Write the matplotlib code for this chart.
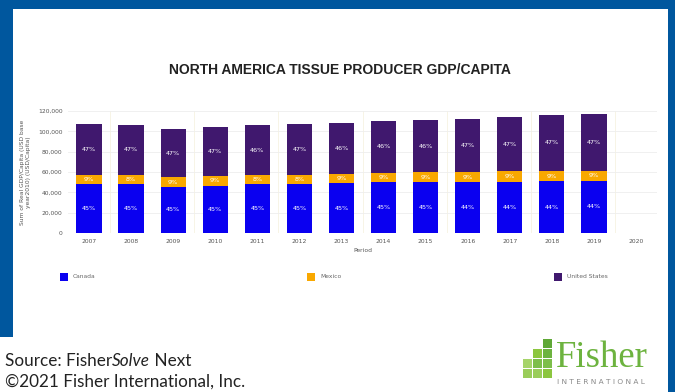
import matplotlib.pyplot as plt
import numpy as np
from matplotlib.patches import Rectangle

# Real GDP per capita by country (USD, base year 2010)
years = ["2007", "2008", "2009", "2010", "2011", "2012", "2013",
         "2014", "2015", "2016", "2017", "2018", "2019", "2020"]
canada = [48000, 48000, 45700, 46700, 48000, 48400, 48700,
          49700, 49700, 49700, 50600, 51000, 51300, np.nan]
mexico = [9200, 8900, 8900, 8900, 8900, 8800, 9500,
          9800, 10100, 10100, 10200, 10100, 10100, np.nan]
usa = [50000, 49700, 47700, 48700, 49000, 50000, 50300,
       50700, 51300, 52300, 53300, 54900, 55300, np.nan]
series_names = ["Canada", "Mexico", "United States"]
series_colors = ["#0A00F0", "#F9A800", "#40186E"]

BORDER = "#00579E"
W, H = 675, 392

fig = plt.figure(figsize=(W / 100, H / 100), dpi=100)
fig.patch.set_facecolor("white")


def px_rect(x0, y0, w, h, color, z=1):
    # rectangle given in pixels from the top-left corner
    fig.patches.append(Rectangle((x0 / W, 1 - (y0 + h) / H), w / W, h / H,
                                 transform=fig.transFigure, facecolor=color,
                                 linewidth=0, zorder=z))


# blue frame around the chart panel
for x0, y0, w, h in [(0, 0, W, 9), (0, 0, 13, 337), (668, 0, 7, H)]:
    px_rect(x0, y0, w, h, BORDER, 0)

ax = fig.add_axes([68 / W, 1 - 233 / H, (657 - 68) / W, 122 / H])
x = np.arange(len(years))
data = [np.array(canada), np.array(mexico), np.array(usa)]
totals = data[0] + data[1] + data[2]
bottom = np.zeros(len(years))
for vals, name, col in zip(data, series_names, series_colors):
    ax.bar(x, vals, 0.6, bottom=bottom, color=col, label=name, zorder=3)
    for xi, v, b, t in zip(x, vals, bottom, totals):
        if np.isnan(v):
            continue
        ax.text(xi, b + v / 2, f"{v / t * 100:.0f}%", ha="center", va="center",
                color="white", fontsize=4.6, zorder=4)
    bottom = bottom + np.nan_to_num(vals)

ax.set_xlim(-0.5, len(years) - 0.5)
ax.set_ylim(0, 120000)
ax.set_yticks(np.arange(0, 120001, 20000))
ax.set_yticklabels([f"{v:,}" for v in range(0, 120001, 20000)])
ax.set_xticks(x)
ax.set_xticklabels(years)
ax.tick_params(length=0, labelsize=4.3, labelcolor="#555555", pad=4)
ax.grid(axis="y", color="#EEEEEE", linewidth=0.6, zorder=0)
for bx in np.arange(0.5, len(years) - 1, 2):
    ax.axvline(bx, color="#F6F2E2", linewidth=0.6, zorder=0)
for s in ax.spines.values():
    s.set_visible(False)
ax.set_xlabel("Period", fontsize=4.3, color="#555555", labelpad=3)
ax.set_ylabel("Sum of Real GDP/Capita (USD base\nyear2010) (USD/Capita)",
              fontsize=4.3, color="#555555", labelpad=5, linespacing=1.1)

fig.text(340 / W, 1 - 70 / H, "NORTH AMERICA TISSUE PRODUCER GDP/CAPITA",
         ha="center", va="center", fontsize=10, fontweight="bold",
         family="Liberation Sans", color="#222222")

# legend spread across the panel
for sx, name, col in zip([60, 307, 554], series_names, series_colors):
    px_rect(sx, 273, 8, 8, col)
    fig.text((sx + 13) / W, 1 - 277 / H, name, ha="left", va="center",
             fontsize=4.3, color="#666666")

# footer: the product name has an italic part, so the pieces are laid end to end
renderer = fig.canvas.get_renderer()
cx = 5
for piece, st in [("Source: Fisher", "normal"), ("Solve", "italic"), (" Next", "normal")]:
    t = fig.text(cx / W, 1 - 366 / H, piece, ha="left", va="baseline",
                 fontsize=12.3, family="Lato", style=st, color="#222222")
    cx += t.get_window_extent(renderer).width
fig.text(5 / W, 1 - 387 / H, "\u00a92021 Fisher International, Inc.", ha="left",
         va="baseline", fontsize=12.3, family="Lato", color="#222222")

# Fisher logo: grid of green squares plus wordmark
blocks = [(543, 339, "#5FA836"), (543, 349, "#6DB33F"), (543, 359, "#7DBE4A"), (543, 369, "#8CC63F"),
          (533, 349, "#8CC63F"), (533, 359, "#7DBE4A"), (533, 369, "#9ACD5A"),
          (523, 359, "#A6D46A"), (523, 369, "#9ACD5A")]
for bx, by, bc in blocks:
    px_rect(bx, by, 9, 9, bc)
fig.text(556 / W, 1 - 367 / H, "Fisher", ha="left", va="baseline", fontsize=26.5,
         family="Liberation Serif", color="#6DB33F")
fig.text(601 / W, 1 - 382 / H, "I N T E R N A T I O N A L", ha="center", va="center",
         fontsize=5.3, color="#888888")

fig.savefig("out.png", dpi=100)
